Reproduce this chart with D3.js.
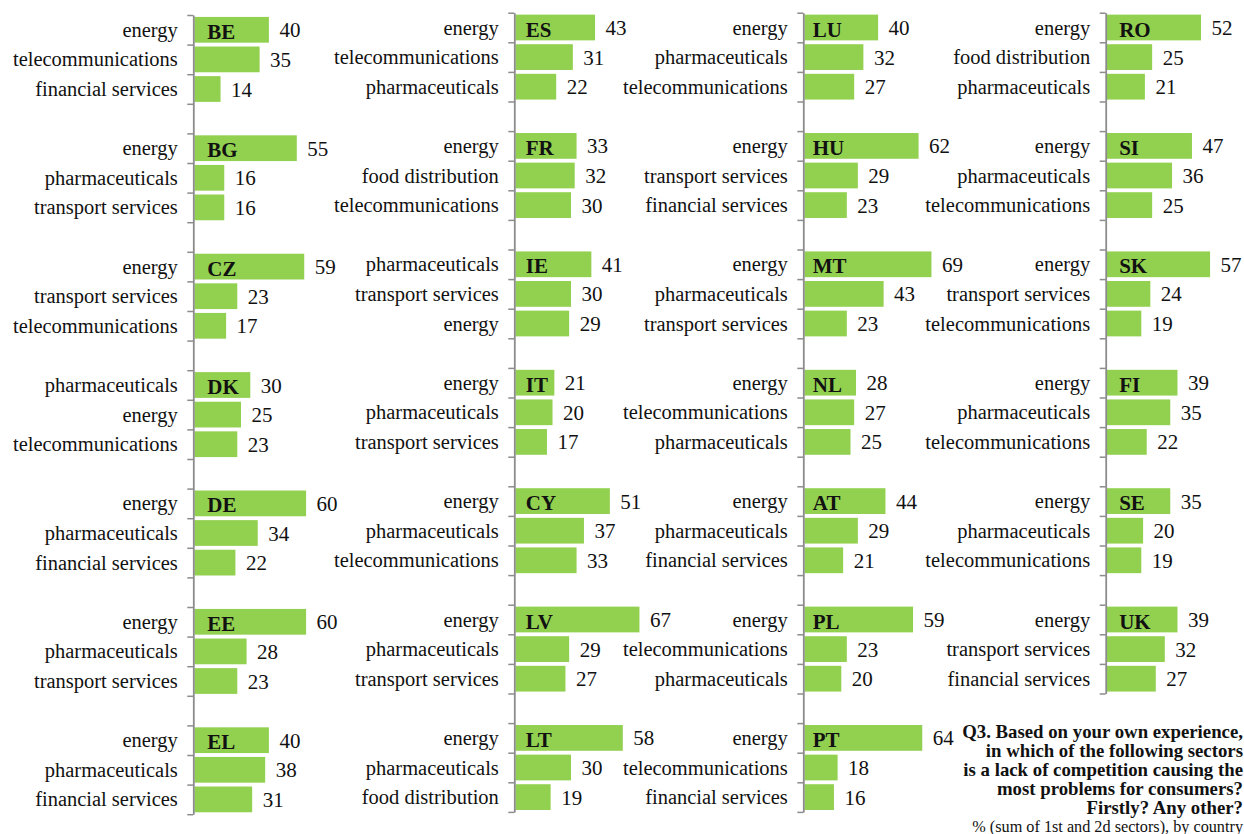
<!DOCTYPE html>
<html>
<head>
<meta charset="utf-8">
<script src="https://cdn.jsdelivr.net/npm/d3@7"></script>
<style>
  html, body { margin: 0; padding: 0; background: #ffffff; }
  svg { display: block; }
  text { font-family: "Liberation Serif", Georgia, serif; fill: #111; }
</style>
</head>
<body>
<svg id="chart" width="1244" height="834"></svg>
<script>
// ---------------- data ----------------
const countries = ["BE","BG","CZ","DK","DE","EE","EL",
                   "ES","FR","IE","IT","CY","LV","LT",
                   "LU","HU","MT","NL","AT","PL","PT",
                   "RO","SI","SK","FI","SE","UK"];
const panelsPerColumn = [7, 7, 7, 6];
const sectors = [
  ["energy","telecommunications","financial services"],
  ["energy","pharmaceuticals","transport services"],
  ["energy","transport services","telecommunications"],
  ["pharmaceuticals","energy","telecommunications"],
  ["energy","pharmaceuticals","financial services"],
  ["energy","pharmaceuticals","transport services"],
  ["energy","pharmaceuticals","financial services"],
  ["energy","telecommunications","pharmaceuticals"],
  ["energy","food distribution","telecommunications"],
  ["pharmaceuticals","transport services","energy"],
  ["energy","pharmaceuticals","transport services"],
  ["energy","pharmaceuticals","telecommunications"],
  ["energy","pharmaceuticals","transport services"],
  ["energy","pharmaceuticals","food distribution"],
  ["energy","pharmaceuticals","telecommunications"],
  ["energy","transport services","financial services"],
  ["energy","pharmaceuticals","transport services"],
  ["energy","telecommunications","pharmaceuticals"],
  ["energy","pharmaceuticals","financial services"],
  ["energy","telecommunications","pharmaceuticals"],
  ["energy","telecommunications","financial services"],
  ["energy","food distribution","pharmaceuticals"],
  ["energy","pharmaceuticals","telecommunications"],
  ["energy","transport services","telecommunications"],
  ["energy","pharmaceuticals","telecommunications"],
  ["energy","pharmaceuticals","telecommunications"],
  ["energy","transport services","financial services"]
];
const values = [
  [40,35,14],[55,16,16],[59,23,17],[30,25,23],[60,34,22],[60,28,23],[40,38,31],
  [43,31,22],[33,32,30],[41,30,29],[21,20,17],[51,37,33],[67,29,27],[58,30,19],
  [40,32,27],[62,29,23],[69,43,23],[28,27,25],[44,29,21],[59,23,20],[64,18,16],
  [52,25,21],[47,36,25],[57,24,19],[39,35,22],[35,20,19],[39,32,27]
];
const titleLines = [
  "Q3. Based on your own experience,",
  "in which of the following sectors",
  "is a lack of competition causing the",
  "most problems for consumers?",
  "Firstly? Any other?"
];
const subtitle = "% (sum of 1st and 2d sectors), by country";

// ---------------- layout ----------------
const axisX = [193.3, 514.3, 803.3, 1105.7];
const colTop = [15, 12.7, 12.7, 12.7];
const step = 29.6;
const pxPer100 = [186, 185, 184, 181];
const codeOffset = [14, 11.5, 9.5, 13.5];
const barColor = "#92d050";
const axisColor = "#8c8c8c";

const svg = d3.select("#chart");

// calibrate font sizes against the reference text widths
function fitSize(str, target, weight) {
  const t = svg.append("text").attr("font-size", 100).attr("font-weight", weight).text(str);
  const w = t.node().getComputedTextLength();
  t.remove();
  return 100 * target / w;
}
const labelSize = fitSize("telecommunications", 165, "normal");
const valueSize = fitSize("40", 21, "normal");
const codeSize = fitSize("BE", 28, "bold");
const titleSize = fitSize(titleLines[0], 281, "bold");
const subSize = fitSize(subtitle, 271, "normal");

let idx = 0;
panelsPerColumn.forEach((nPanels, c) => {
  const keys = [];
  const items = [];
  for (let p = 0; p < nPanels; p++) {
    const i = idx + p;
    for (let k = 0; k < 3; k++) {
      const key = countries[i] + "-" + k;
      keys.push(key);
      items.push({key, country: countries[i], sector: sectors[i][k], value: values[i][k], first: k === 0});
    }
    if (p < nPanels - 1) keys.push("gap-" + countries[i]);
  }
  idx += nPanels;

  const n = keys.length;
  const y0 = colTop[c], y1 = colTop[c] + n * step;
  const y = d3.scaleBand().domain(keys).range([y0, y1]).paddingInner(0.13).paddingOuter(0.065);
  const x = d3.scaleLinear().domain([0, 100]).range([0, pxPer100[c]]);
  const ax = axisX[c];

  const g = svg.append("g");

  g.selectAll("rect.bar").data(items).join("rect")
    .attr("class", "bar")
    .attr("x", ax + 1.2)
    .attr("y", d => y(d.key))
    .attr("width", d => x(d.value))
    .attr("height", y.bandwidth())
    .attr("fill", barColor);

  const yb = d3.scaleLinear().domain([0, n]).range([y0, y1]);
  const axisG = g.append("g").attr("transform", `translate(${ax},0)`)
    .call(d3.axisLeft(yb).tickValues(d3.range(n + 1)).tickSize(6).tickSizeOuter(0).tickFormat(""));
  axisG.select(".domain").attr("stroke", axisColor).attr("stroke-width", 1.8);
  axisG.selectAll(".tick line").attr("stroke", axisColor).attr("stroke-width", 1.5);

  const cy = d => y(d.key) + y.bandwidth() / 2;

  g.selectAll("text.cat").data(items).join("text")
    .attr("class", "cat")
    .attr("x", ax - 15.5)
    .attr("y", d => cy(d) + 7)
    .attr("text-anchor", "end")
    .attr("font-size", labelSize)
    .text(d => d.sector);

  g.selectAll("text.val").data(items).join("text")
    .attr("class", "val")
    .attr("x", d => ax + 1.2 + x(d.value) + 10.5)
    .attr("y", d => cy(d) + 7.5)
    .attr("font-size", valueSize)
    .text(d => d.value);

  g.selectAll("text.code").data(items.filter(d => d.first)).join("text")
    .attr("class", "code")
    .attr("x", ax + codeOffset[c])
    .attr("y", d => cy(d) + 9)
    .attr("font-size", codeSize)
    .attr("font-weight", "bold")
    .text(d => d.country);
});

const tg = svg.append("g");
titleLines.forEach((line, i) => {
  tg.append("text")
    .attr("x", 1243)
    .attr("y", 737.5 + i * 19.2)
    .attr("text-anchor", "end")
    .attr("font-weight", "bold")
    .attr("font-size", titleSize)
    .text(line);
});
tg.append("text")
  .attr("x", 1243)
  .attr("y", 831.5)
  .attr("text-anchor", "end")
  .attr("font-size", subSize)
  .text(subtitle);
</script>
</body>
</html>
